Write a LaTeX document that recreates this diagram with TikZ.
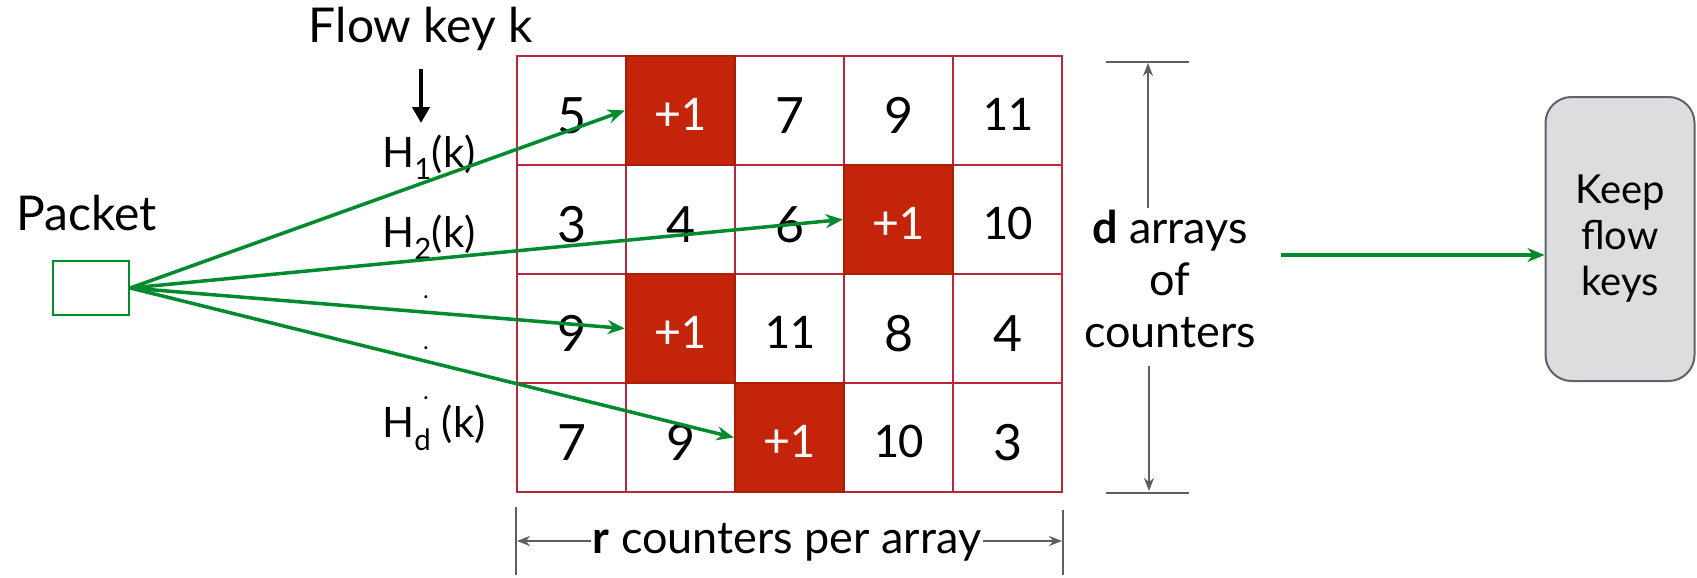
\documentclass[tikz,border=0pt]{standalone}
\usepackage{fontspec}
\setmainfont{Lato}
\newfontfamily\numfont{Carlito}
\usetikzlibrary{arrows.meta}
\definecolor{gridred}{RGB}{183,40,60}
\definecolor{hitred}{RGB}{196,36,10}
\definecolor{pgreen}{RGB}{0,138,46}
\definecolor{dimgray}{RGB}{90,95,102}
\definecolor{boxfill}{RGB}{220,221,223}
\definecolor{boxdraw}{RGB}{95,99,104}
\begin{document}
\begin{tikzpicture}[x=1pt,y=-1pt,
 cell/.style={draw=gridred, line width=2.5pt, minimum width=109pt, minimum height=109pt, inner sep=0pt, fill=white},
 hitcell/.style={cell, fill=hitred, draw=hitred!85!black},
 dig/.style={font=\fontsize{50}{50}\selectfont, inner sep=0pt, yshift=-5pt},
 num/.style={font=\numfont\fontsize{50}{50}\selectfont, inner sep=0pt, yshift=-4pt},
 hitnum/.style={num, text=white},
 lbl/.style={font=\fontsize{48}{52}\selectfont, inner sep=0pt, anchor=base},
 hlbl/.style={font=\fontsize{42}{46}\selectfont, inner sep=0pt, anchor=base west},
 dotlbl/.style={font=\fontsize{24}{24}\selectfont, inner sep=0pt, anchor=center},
 midlbl/.style={font=\fontsize{45}{48}\selectfont, inner sep=0pt, anchor=base},
 garrow/.style={draw=pgreen, line width=3.5pt, -{Stealth[length=17pt,width=14pt]}},
 dimline/.style={draw=dimgray, line width=2pt},
 dimarrow/.style={draw=dimgray, line width=1.8pt, -{Stealth[length=13pt,width=10pt]}},
]
\useasboundingbox (0,0) rectangle (1697,578);

% grid, white cells
\node[cell, label={[dig]center:5}]  (c11) at (571.5,110.5) {};
\node[cell, label={[dig]center:7}]  (c13) at (789.5,110.5) {};
\node[cell, label={[dig]center:9}]  (c14) at (898.5,110.5) {};
\node[cell, label={[num]center:11}] (c15) at (1007.5,110.5) {};

\node[cell, label={[dig]center:3}]  (c21) at (571.5,219.5) {};
\node[cell, label={[dig]center:4}]  (c22) at (680.5,219.5) {};
\node[cell, label={[dig]center:6}]  (c23) at (789.5,219.5) {};
\node[cell, label={[num]center:10}] (c25) at (1007.5,219.5) {};

\node[cell, label={[dig]center:9}]  (c31) at (571.5,328.5) {};
\node[cell, label={[num]center:11}] (c33) at (789.5,328.5) {};
\node[cell, label={[dig]center:8}]  (c34) at (898.5,328.5) {};
\node[cell, label={[dig]center:4}]  (c35) at (1007.5,328.5) {};

\node[cell, label={[dig]center:7}]  (c41) at (571.5,437.5) {};
\node[cell, label={[dig]center:9}]  (c42) at (680.5,437.5) {};
\node[cell, label={[num]center:10}] (c44) at (898.5,437.5) {};
\node[cell, label={[dig]center:3}]  (c45) at (1007.5,437.5) {};

% incremented cells
\node[hitcell, label={[hitnum]center:+1}] (c12) at (680.5,110.5) {};
\node[hitcell, label={[hitnum]center:+1}] (c24) at (898.5,219.5) {};
\node[hitcell, label={[hitnum]center:+1}] (c32) at (680.5,328.5) {};
\node[hitcell, label={[hitnum]center:+1}] (c43) at (789.5,437.5) {};

% packet
\node[lbl] (pklbl) at (86.6,230) {Packet};
\node[draw=pgreen, line width=2.5pt, minimum width=76pt, minimum height=54pt, inner sep=0pt] (pk) at (91,288) {};

% flow key
\node[lbl] (fk) at (421,43) {Flow key k};
\coordinate (ka) at (421,69);
\coordinate (kb) at (421,123);
\draw[line width=4.5pt, -{Triangle[length=16pt,width=17pt]}] (ka) -- (kb);

% hash labels
\node[hlbl] (h1) at (382,167) {H\textsubscript{1}(k)};
\node[hlbl] (h2) at (382,247) {H\textsubscript{2}(k)};
\node[dotlbl] (dot1) at (426,297) {.};
\node[dotlbl] (dot2) at (426,348) {.};
\node[dotlbl] (dot3) at (426,398) {.};
\node[hlbl] (hd) at (382,437) {H\textsubscript{d} (k)};

% hash arrows
\draw[garrow] (pk.east) -- (c12.west);
\draw[garrow] (pk.east) -- (c24.west);
\draw[garrow] (pk.east) -- (c32.west);
\draw[garrow] (pk.east) -- (c43.west);

% d arrays dimension
\node[midlbl] (d1) at (1170,243) {\textbf{d} arrays};
\node[midlbl] (d2) at (1170,295) {of};
\node[midlbl] (d3) at (1170,347) {counters};
\coordinate (dt1) at (1106,62);
\coordinate (dt2) at (1189,62);
\coordinate (db1) at (1106,493);
\coordinate (db2) at (1189,493);
\draw[dimline] (dt1) -- (dt2);
\draw[dimline] (db1) -- (db2);
\coordinate (du0) at (1148,208);
\coordinate (du1) at (1148,63);
\coordinate (dd0) at (1149,366);
\coordinate (dd1) at (1149,491);
\draw[dimarrow] (du0) -- (du1);
\draw[dimarrow] (dd0) -- (dd1);

% r counters dimension
\node[midlbl] (rl) at (787,553) {\textbf{r} counters per array};
\coordinate (lt1) at (516,507);
\coordinate (lt2) at (516,575);
\coordinate (rt1) at (1063,510);
\coordinate (rt2) at (1063,575);
\draw[dimline] (lt1) -- (lt2);
\draw[dimline] (rt1) -- (rt2);
\coordinate (ra0) at (591,541);
\coordinate (ra1) at (517,541);
\coordinate (rb0) at (983,541);
\coordinate (rb1) at (1062,541);
\draw[dimarrow] (ra0) -- (ra1);
\draw[dimarrow] (rb0) -- (rb1);

% keep flow keys
\node[draw=boxdraw, fill=boxfill, line width=2pt, rounded corners=26pt, minimum width=149pt, minimum height=284pt, align=center, font=\fontsize{40}{46}\selectfont] (kf) at (1620,239) {Keep\\flow\\keys};
\coordinate (g0) at (1281,255);
\draw[garrow, line width=4pt] (g0) -- (g0 -| kf.west);
\end{tikzpicture}
\end{document}
